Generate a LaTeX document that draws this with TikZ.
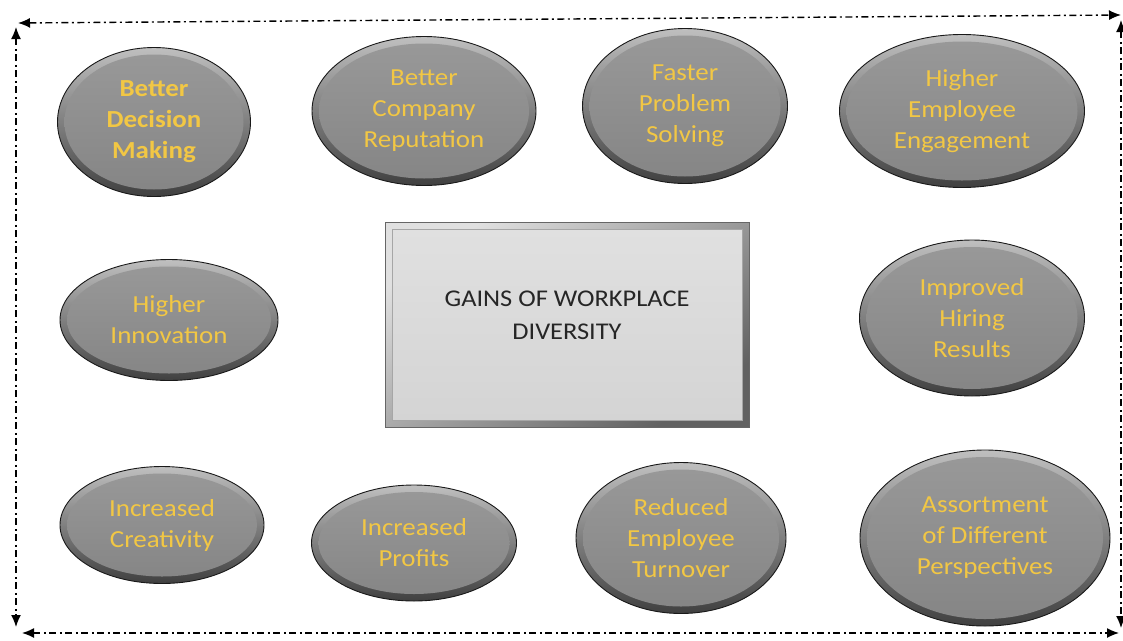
\documentclass[tikz,border=0pt]{standalone}
\usepackage{fontspec}
\setmainfont{Carlito}[FakeStretch=1.1]
\usetikzlibrary{shapes.geometric,calc,arrows.meta}
\definecolor{gaintext}{HTML}{F2C744}

\begin{document}
\begin{tikzpicture}[
    x=1pt, y=-1pt,
    gain/.style={
        ellipse,
        draw=black!90,
        line width=0.9pt,
        top color=black!25,
        bottom color=black!75,
        text=gaintext,
        align=center,
        inner sep=0pt,
        font=\fontsize{24.5}{31}\selectfont,
        path picture={
            \shade[top color=black!40, bottom color=black!48]
                let \p1=(path picture bounding box.south west),
                    \p2=(path picture bounding box.north east)
                in (path picture bounding box.center)
                ellipse ({(\x2-\x1)/2-7pt} and {(\y2-\y1)/2-7pt});
        },
    },
    gainsize/.style 2 args={minimum width=#1pt, minimum height=#2pt},
    hub/.style={
        rectangle,
        draw=black!60,
        line width=0.8pt,
        top color=black!12,
        bottom color=black!62,
        shading angle=35,
        minimum width=364pt,
        minimum height=205pt,
        path picture={
            \shade[top color=black!12, bottom color=black!17, draw=black!35]
                ([shift={(7pt,7pt)}]path picture bounding box.south west)
                rectangle
                ([shift={(-7pt,-7pt)}]path picture bounding box.north east);
        },
    },
    hubtext/.style={
        align=center,
        text=black!85,
        font=\fontsize{24}{33}\selectfont,
    },
    frame/.style={
        line width=1.4pt,
        dash pattern=on 7pt off 3.5pt on 2pt off 3.5pt,
        {Latex[length=12pt,width=10pt]}-{Latex[length=12pt,width=10pt]},
    },
    ]
    \useasboundingbox (0,0) rectangle (1123,640);

    % dash-dot frame round the whole chart
    \coordinate (top w) at (18,23);
    \coordinate (top e) at (1121,15);
    \coordinate (left n) at (16,27);
    \coordinate (left s) at (16,627);
    \coordinate (bottom w) at (22,633);
    \coordinate (bottom e) at (1119,633);
    \coordinate (right n) at (1121,20);
    \coordinate (right s) at (1121,628);
    \draw[frame] (top w) -- (top e);
    \draw[frame] (left n) -- (left s);
    \draw[frame] (bottom w) -- (bottom e);
    \draw[frame] (right n) -- (right s);

    % centre box
    \node[hub] (hub) at (567,325) {};
    \node[hubtext] (title) at ([yshift=10pt]hub.center) {GAINS OF WORKPLACE\\DIVERSITY};

    % top row
    \node[gain, gainsize={193}{149}] (decision) at (154,122)
        {\textbf{Better}\\\textbf{Decision}\\\textbf{Making}};
    \node[gain, gainsize={224}{149}] (reputation) at (424,111)
        {Better\\Company\\Reputation};
    \node[gain, gainsize={205}{155}] (solving) at (685,106)
        {Faster\\Problem\\Solving};
    \node[gain, gainsize={245}{153}] (engagement) at (962,111)
        {Higher\\Employee\\Engagement};

    % middle row
    \node[gain, gainsize={218}{121}] (innovation) at (169,320)
        {Higher\\Innovation};
    \node[gain, gainsize={225}{156}] (hiring) at (972,318)
        {Improved\\Hiring\\Results};

    % bottom row
    \node[gain, gainsize={204}{117}] (creativity) at (162,525)
        {Increased\\Creativity};
    \node[gain, gainsize={205}{116}] (profits) at (414,543)
        {Increased\\Profits};
    \node[gain, gainsize={210}{151}] (turnover) at (681,538)
        {Reduced\\Employee\\Turnover};
    \node[gain, gainsize={250}{176}] (perspectives) at (985,538)
        {Assortment\\of Different\\Perspectives};
\end{tikzpicture}
\end{document}
